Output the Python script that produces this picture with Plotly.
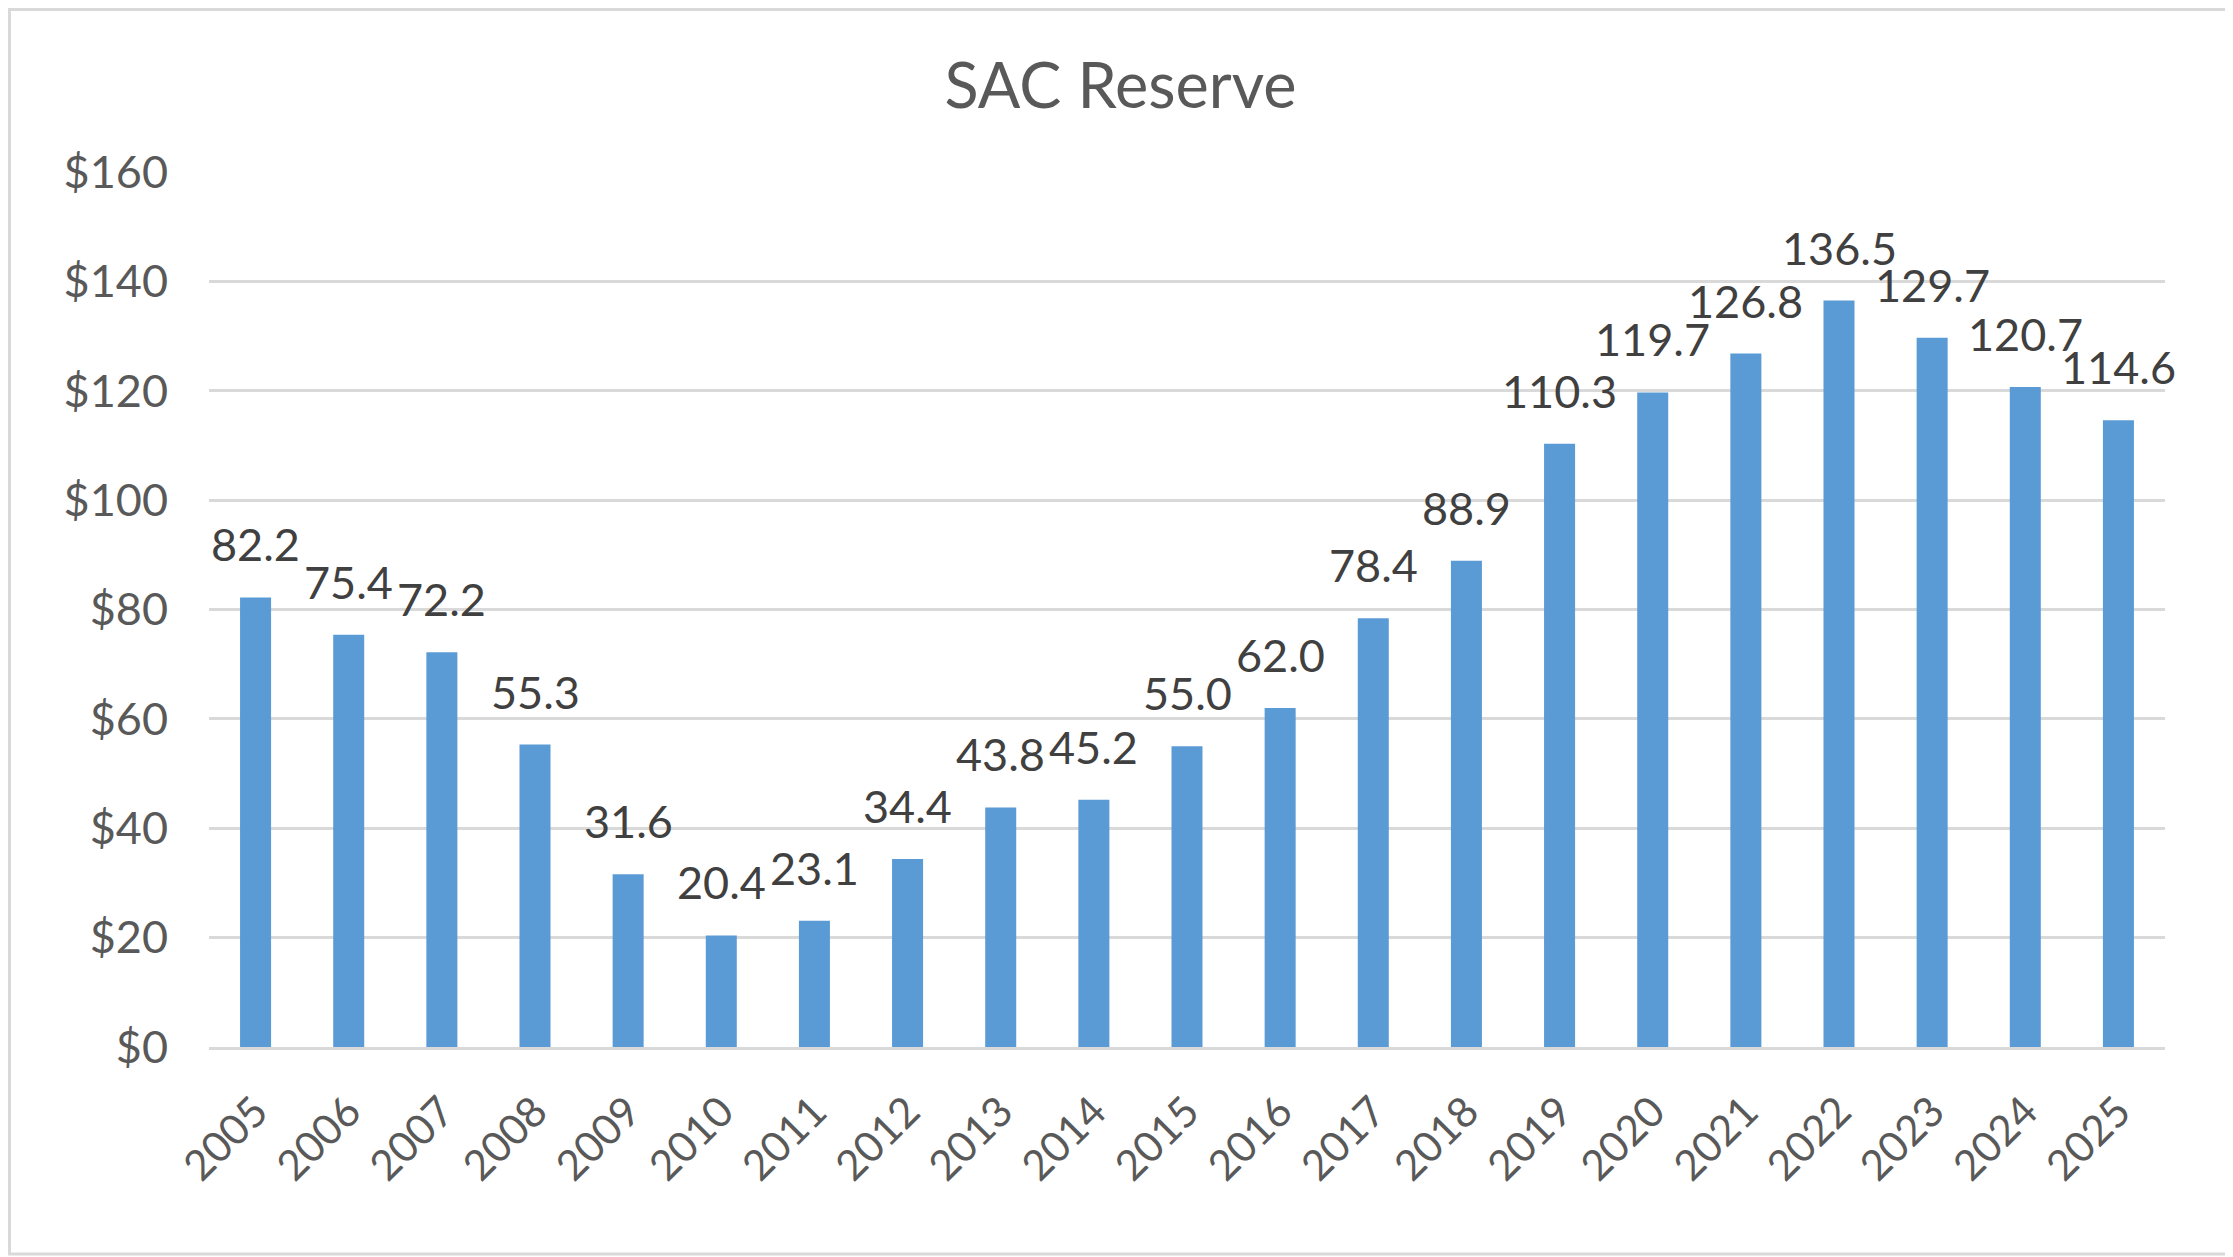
import plotly.graph_objects as go

years = [str(y) for y in range(2005, 2026)]
values = [82.2, 75.4, 72.2, 55.3, 31.6, 20.4, 23.1, 34.4, 43.8, 45.2, 55.0,
          62.0, 78.4, 88.9, 110.3, 119.7, 126.8, 136.5, 129.7, 120.7, 114.6]
y_ticks = [0, 20, 40, 60, 80, 100, 120, 140, 160]
y_tick_labels = ["$0", "$20", "$40", "$60", "$80", "$100", "$120", "$140", "$160"]
title = "SAC Reserve"

OFF = 8  # page body margin
W, H = 2233 - OFF, 1257 - OFF
L, R, T, B = 209 - OFF, 2165 - OFF, 172 - OFF, 1047 - OFF
FONT = "Lato"
TXT = "#595959"

fig = go.Figure()
fig.add_trace(go.Bar(x=years, y=values, marker=dict(color="#5B9BD5", line=dict(width=0)),
                     hoverinfo="x+y"))

# category axis: annotation x uses the category's serial index
for i, v in enumerate(values):
    fig.add_annotation(x=i, y=v, text=f"{v:.1f}", showarrow=False,
                       yanchor="bottom", yshift=24,
                       font=dict(family=FONT, size=45, color="#404040"))

def px(xp):
    return (xp - L) / (R - L)

def py(yp):
    return (B - yp) / (B - T)

fig.add_shape(type="rect", xref="paper", yref="paper",
              x0=px(1.5), x1=px(2230 - OFF), y0=py(1254 - OFF), y1=py(1.5),
              line=dict(color="#D9D9D9", width=3), layer="below")

fig.update_layout(
    width=W, height=H,
    margin=dict(l=L, r=W - R, t=T, b=H - B, pad=0),
    paper_bgcolor="white", plot_bgcolor="white",
    showlegend=False,
    bargap=0.667,
    title=dict(text=title, x=0.5, xref="container", xanchor="center",
               y=1 - (86 - OFF) / H, yref="container", yanchor="middle",
               font=dict(family=FONT, size=63, color=TXT)),
    font=dict(family=FONT, color=TXT),
)
fig.update_yaxes(range=[0, 160], tickvals=y_ticks, ticktext=y_tick_labels,
                 showgrid=True, gridcolor="#D9D9D9", gridwidth=3,
                 zeroline=False, showline=False, ticks="",
                 ticklabelstandoff=40,
                 tickfont=dict(family=FONT, size=45, color=TXT))
fig.update_xaxes(type="category", range=[-0.5, len(years) - 0.5],
                 showgrid=False, showline=True,
                 linecolor="#D9D9D9", linewidth=3,
                 ticks="", tickangle=-45, ticklabelstandoff=20,
                 tickfont=dict(family=FONT, size=42, color=TXT))

fig.write_html("out.html")
